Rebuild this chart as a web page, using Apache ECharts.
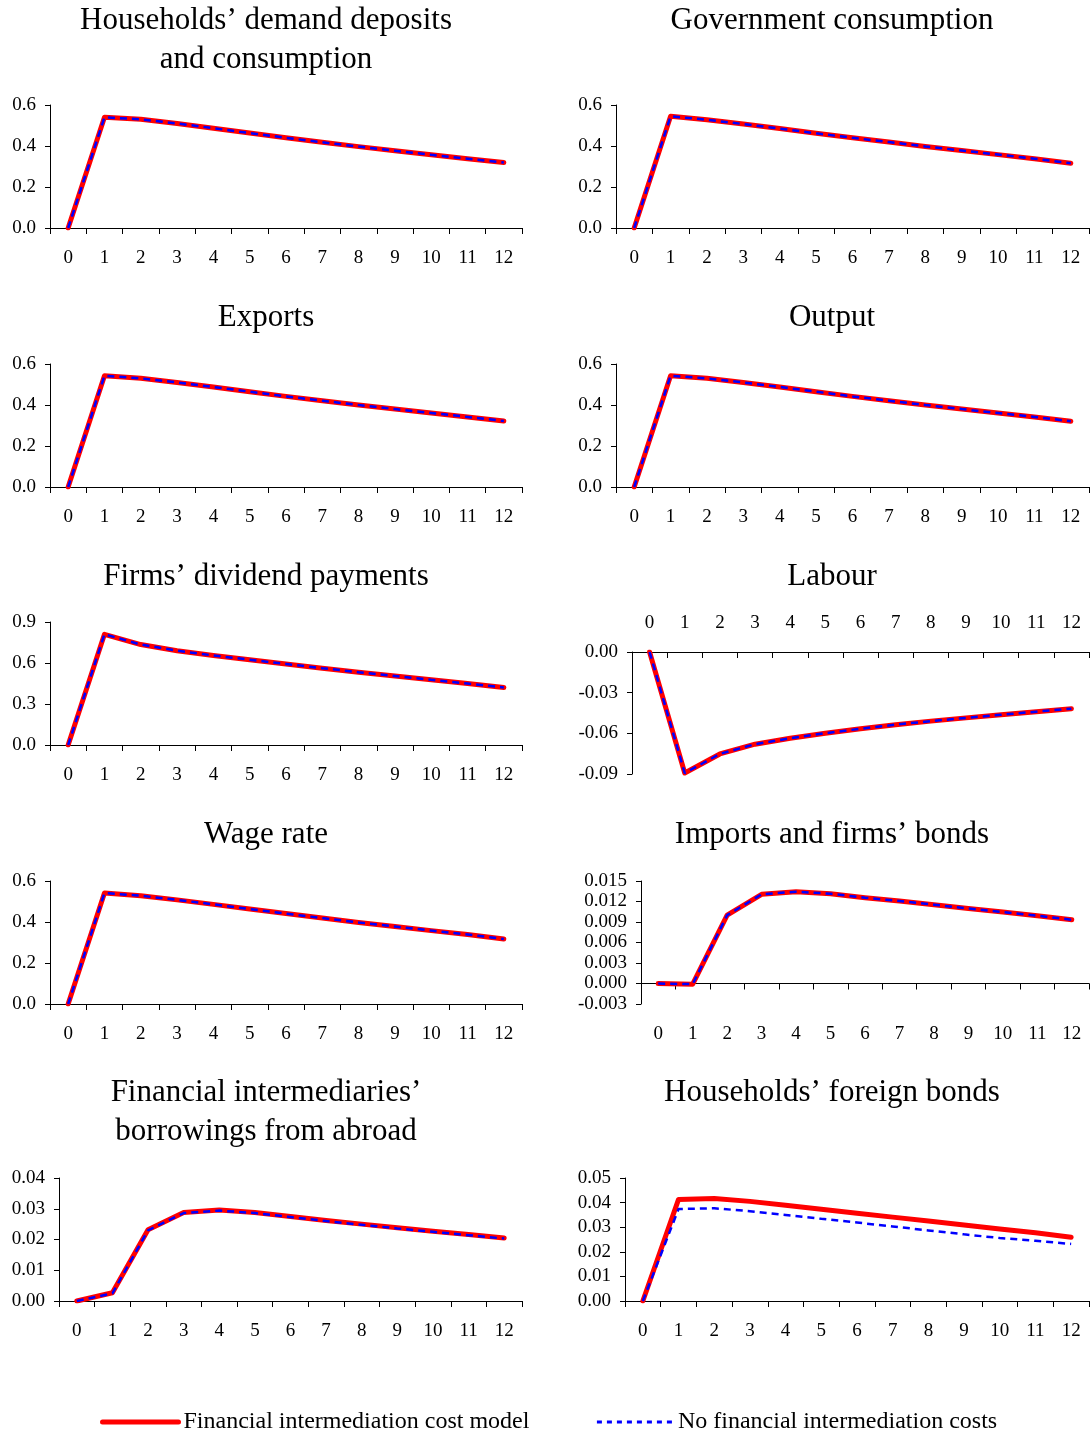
<!DOCTYPE html>
<html>
<head>
<meta charset="utf-8">
<script src="https://cdn.jsdelivr.net/npm/echarts@6/dist/echarts.min.js"></script>
<style>
html,body{margin:0;padding:0;background:#fff;}
#chart{width:1092px;height:1433px;}
</style>
</head>
<body>
<div id="chart"></div>
<script>
// ---------- DATA ----------
const periods = ['0','1','2','3','4','5','6','7','8','9','10','11','12'];
const seriesNames = ['Financial intermediation cost model', 'No financial intermediation costs'];
const panelTitles = [
  'Households\u2019 demand deposits\nand consumption',
  'Government consumption',
  'Exports',
  'Output',
  'Firms\u2019 dividend payments',
  'Labour',
  'Wage rate',
  'Imports and firms\u2019 bonds',
  'Financial intermediaries\u2019\nborrowings from abroad',
  'Households\u2019 foreign bonds'
];
const depositsCost   = [0, 0.540, 0.530, 0.510, 0.487, 0.463, 0.440, 0.418, 0.397, 0.377, 0.357, 0.338, 0.319];
const depositsNoCost = [0, 0.540, 0.530, 0.510, 0.487, 0.463, 0.440, 0.418, 0.397, 0.377, 0.357, 0.338, 0.319];
const govCost        = [0, 0.545, 0.528, 0.507, 0.485, 0.462, 0.440, 0.419, 0.398, 0.378, 0.358, 0.338, 0.316];
const govNoCost      = [0, 0.545, 0.528, 0.507, 0.485, 0.462, 0.440, 0.419, 0.398, 0.378, 0.358, 0.338, 0.316];
const exportsCost    = [0, 0.543, 0.530, 0.510, 0.488, 0.465, 0.442, 0.421, 0.400, 0.380, 0.361, 0.342, 0.322];
const exportsNoCost  = [0, 0.543, 0.530, 0.510, 0.488, 0.465, 0.442, 0.421, 0.400, 0.380, 0.361, 0.342, 0.322];
const outputCost     = [0, 0.543, 0.530, 0.510, 0.488, 0.465, 0.442, 0.421, 0.400, 0.380, 0.361, 0.342, 0.321];
const outputNoCost   = [0, 0.543, 0.530, 0.510, 0.488, 0.465, 0.442, 0.421, 0.400, 0.380, 0.361, 0.342, 0.321];
const dividendCost   = [0, 0.810, 0.735, 0.690, 0.655, 0.624, 0.593, 0.562, 0.533, 0.505, 0.477, 0.450, 0.421];
const dividendNoCost = [0, 0.810, 0.735, 0.690, 0.655, 0.624, 0.593, 0.562, 0.533, 0.505, 0.477, 0.450, 0.421];
const labourCost     = [0, -0.0893, -0.0752, -0.0680, -0.0636, -0.0599, -0.0566, -0.0536, -0.0510, -0.0486, -0.0463, -0.0440, -0.0418];
const labourNoCost   = [0, -0.0893, -0.0752, -0.0680, -0.0636, -0.0599, -0.0566, -0.0536, -0.0510, -0.0486, -0.0463, -0.0440, -0.0418];
const wageCost       = [0, 0.541, 0.528, 0.508, 0.486, 0.463, 0.441, 0.419, 0.398, 0.378, 0.358, 0.339, 0.317];
const wageNoCost     = [0, 0.541, 0.528, 0.508, 0.486, 0.463, 0.441, 0.419, 0.398, 0.378, 0.358, 0.339, 0.317];
const importsCost    = [0, -0.0001, 0.0100, 0.01305, 0.01344, 0.01314, 0.01256, 0.01207, 0.01153, 0.01099, 0.01046, 0.00992, 0.00933];
const importsNoCost  = [0, -0.0001, 0.0100, 0.01305, 0.01344, 0.01314, 0.01256, 0.01207, 0.01153, 0.01099, 0.01046, 0.00992, 0.00933];
const borrowCost     = [0, 0.0027, 0.0232, 0.0288, 0.0296, 0.0288, 0.0275, 0.0262, 0.0250, 0.0238, 0.0227, 0.0216, 0.0205];
const borrowNoCost   = [0, 0.0025, 0.0230, 0.0286, 0.0294, 0.0286, 0.0273, 0.0260, 0.0248, 0.0236, 0.0225, 0.0214, 0.0203];
const foreignCost    = [0, 0.0413, 0.0417, 0.0405, 0.0389, 0.0373, 0.0357, 0.0341, 0.0325, 0.0309, 0.0293, 0.0277, 0.0259];
const foreignNoCost  = [0, 0.0374, 0.0377, 0.0365, 0.0350, 0.0334, 0.0319, 0.0303, 0.0287, 0.0271, 0.0256, 0.0245, 0.0232];
// y-axis tick settings per panel: [min, max, interval, decimals]
const yTicks = [
  [0, 0.6, 0.2, 1], [0, 0.6, 0.2, 1], [0, 0.6, 0.2, 1], [0, 0.6, 0.2, 1],
  [0, 0.9, 0.3, 1], [-0.09, 0, 0.03, 2], [0, 0.6, 0.2, 1], [-0.003, 0.015, 0.003, 3],
  [0, 0.04, 0.01, 2], [0, 0.05, 0.01, 2]
];
const panelData = [
  [depositsCost, depositsNoCost], [govCost, govNoCost], [exportsCost, exportsNoCost],
  [outputCost, outputNoCost], [dividendCost, dividendNoCost], [labourCost, labourNoCost],
  [wageCost, wageNoCost], [importsCost, importsNoCost], [borrowCost, borrowNoCost],
  [foreignCost, foreignNoCost]
];

// ---------- LAYOUT ----------
const grids = [
  {left: 50,  top: 105,  width: 472, height: 123},
  {left: 616, top: 105,  width: 473, height: 123},
  {left: 50,  top: 364,  width: 472, height: 123},
  {left: 616, top: 364,  width: 473, height: 123},
  {left: 50,  top: 622,  width: 472, height: 123},
  {left: 632, top: 652,  width: 457, height: 122},
  {left: 50,  top: 881,  width: 472, height: 123},
  {left: 641, top: 881,  width: 448, height: 123},
  {left: 59,  top: 1178, width: 463, height: 123},
  {left: 625, top: 1178, width: 464, height: 123}
];
const titlePos = [
  [266, 20], [832, 20], [266, 317], [832, 317], [266, 576],
  [832, 576], [266, 834], [832, 834], [266, 1092], [832, 1092]
];

const serif = '"Liberation Serif", "Times New Roman", serif';
const black = '#000';
const option = {
  animation: false,
  backgroundColor: '#fff',
  title: [],
  grid: [],
  xAxis: [],
  yAxis: [],
  series: [],
  legend: {
    data: [
      {name: seriesNames[0], lineStyle: {width: 5, color: '#ff0000', type: 'solid', cap: 'round'}},
      {name: seriesNames[1], lineStyle: {width: 3, color: '#0000ff', type: [5, 5]}}
    ],
    left: 95,
    top: 1405,
    itemWidth: 76,
    itemHeight: 14,
    itemGap: 66,
    itemStyle: {opacity: 0},
    textStyle: {fontFamily: serif, fontSize: 24, color: black},
    selectedMode: false
  }
};

grids.forEach((g, i) => {
  option.grid.push(Object.assign({}, g, {containLabel: false}));
  const [tx, ty] = titlePos[i];
  option.title.push({
    text: panelTitles[i], left: tx, top: ty - 19, textAlign: 'center',
    textStyle: {fontFamily: serif, fontWeight: 'normal', fontSize: 31, lineHeight: 39, color: black},
    padding: 0
  });
  const [mn, mx, iv, dec] = yTicks[i];
  const isLabour = i === 5;
  const isImports = i === 7;
  const xIdx = option.xAxis.length;
  option.xAxis.push({
    type: 'category', gridIndex: i, data: periods, boundaryGap: true,
    position: isLabour ? 'top' : 'bottom',
    axisLine: {show: true, onZero: true, lineStyle: {color: black, width: 1}},
    axisTick: {show: true, inside: isLabour, length: 6, alignWithLabel: false, lineStyle: {color: black}},
    axisLabel: {show: !isImports, margin: isLabour ? 19 : 21, fontFamily: serif, fontSize: 19, color: black, interval: 0},
    splitLine: {show: false}
  });
  if (isImports) {
    option.xAxis.push({
      type: 'category', gridIndex: i, data: periods, boundaryGap: true, position: 'bottom',
      axisLine: {show: false, onZero: false}, axisTick: {show: false},
      axisLabel: {show: true, margin: 21, fontFamily: serif, fontSize: 19, color: black, interval: 0},
      splitLine: {show: false}
    });
  }
  option.yAxis.push({
    type: 'value', gridIndex: i, min: mn, max: mx, interval: iv,
    axisLine: {show: true, lineStyle: {color: black, width: 1}},
    axisTick: {show: true, length: 5, lineStyle: {color: black}},
    axisLabel: {margin: 14, fontFamily: serif, fontSize: 19, color: black,
      formatter: v => (Math.abs(v) < 1e-12 ? 0 : v).toFixed(dec)},
    splitLine: {show: false}
  });
  const [a, b] = panelData[i];
  option.series.push({
    name: seriesNames[0], type: 'line', xAxisIndex: xIdx, yAxisIndex: i, data: a,
    symbol: 'none', lineStyle: {color: '#ff0000', width: 5, cap: 'round', join: 'round'},
    itemStyle: {color: '#ff0000'}, z: 2
  });
  option.series.push({
    name: seriesNames[1], type: 'line', xAxisIndex: xIdx, yAxisIndex: i, data: b,
    symbol: 'none', lineStyle: {color: '#0000ff', width: 2.5, type: [7, 5]},
    itemStyle: {color: '#0000ff'}, z: 3
  });
});

const chart = echarts.init(document.getElementById('chart'), null, {renderer: 'canvas'});
chart.setOption(option);
</script>
</body>
</html>
